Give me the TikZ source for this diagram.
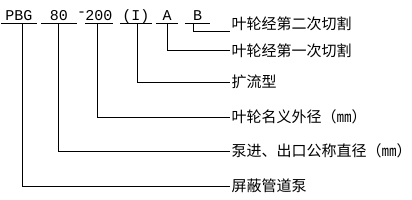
\documentclass[tikz,border=0pt]{standalone}
\usepackage{fontspec}
\newfontfamily\cjk{Noto Sans CJK SC}
\newfontfamily\codefont{Liberation Mono}
\begin{document}
\begin{tikzpicture}[x=1pt,y=1pt,
  code/.style={font=\codefont\fontsize{15}{15}\selectfont, inner xsep=0pt, inner ysep=0pt,
    text height=10pt, text depth=2pt, anchor=south},
  lab/.style={font=\cjk\fontsize{15}{15}\selectfont, inner sep=1.5pt, anchor=west},
  conn/.style={line width=0.8pt, black},
  uline/.style={line width=0.8pt, black}]
\useasboundingbox (0,0) rectangle (412,-200);
% code parts
\node[code, minimum width=36pt] (pbg) at (19,-23) {PBG};
\node[code, minimum width=36pt] (n80) at (59,-23) {80};
\node[code, anchor=base] (dash) at (81.5,-17) {-};
\node[code, minimum width=26pt] (n200) at (99,-23) {200};
\node[code, minimum width=32pt] (ni) at (136,-23) {(I)};
\node[code, minimum width=22pt] (na) at (167,-23) {A};
\node[code, minimum width=25pt] (nb) at (197.5,-23) {B};
\foreach \n in {pbg,n80,n200,ni,na,nb}
  \draw[uline] (\n.south west) -- (\n.south east);
% labels
\node[lab] (l1) at (230,-23.5) {叶轮经第二次切割};
\node[lab] (l2) at (230,-50.5) {叶轮经第一次切割};
\node[lab] (l3) at (230,-82) {扩流型};
\node[lab] (l4) at (230,-117) {叶轮名义外径（㎜）};
\node[lab] (l5) at (230,-151) {泵进、出口公称直径（㎜）};
\node[lab] (l6) at (230,-186) {屏蔽管道泵};
% connectors
\draw[conn] ([xshift=-4.5pt]nb.south) |- ([yshift=-7.5pt]l1.west);
\draw[conn] (na.south) |- (l2.west);
\draw[conn] ([xshift=1pt]ni.south) |- (l3.west);
\draw[conn] ([xshift=-2pt]n200.south) |- (l4.west);
\draw[conn] ([xshift=-1pt]n80.south) |- (l5.west);
\draw[conn] ([xshift=3pt]pbg.south) |- (l6.west);
\end{tikzpicture}
\end{document}
